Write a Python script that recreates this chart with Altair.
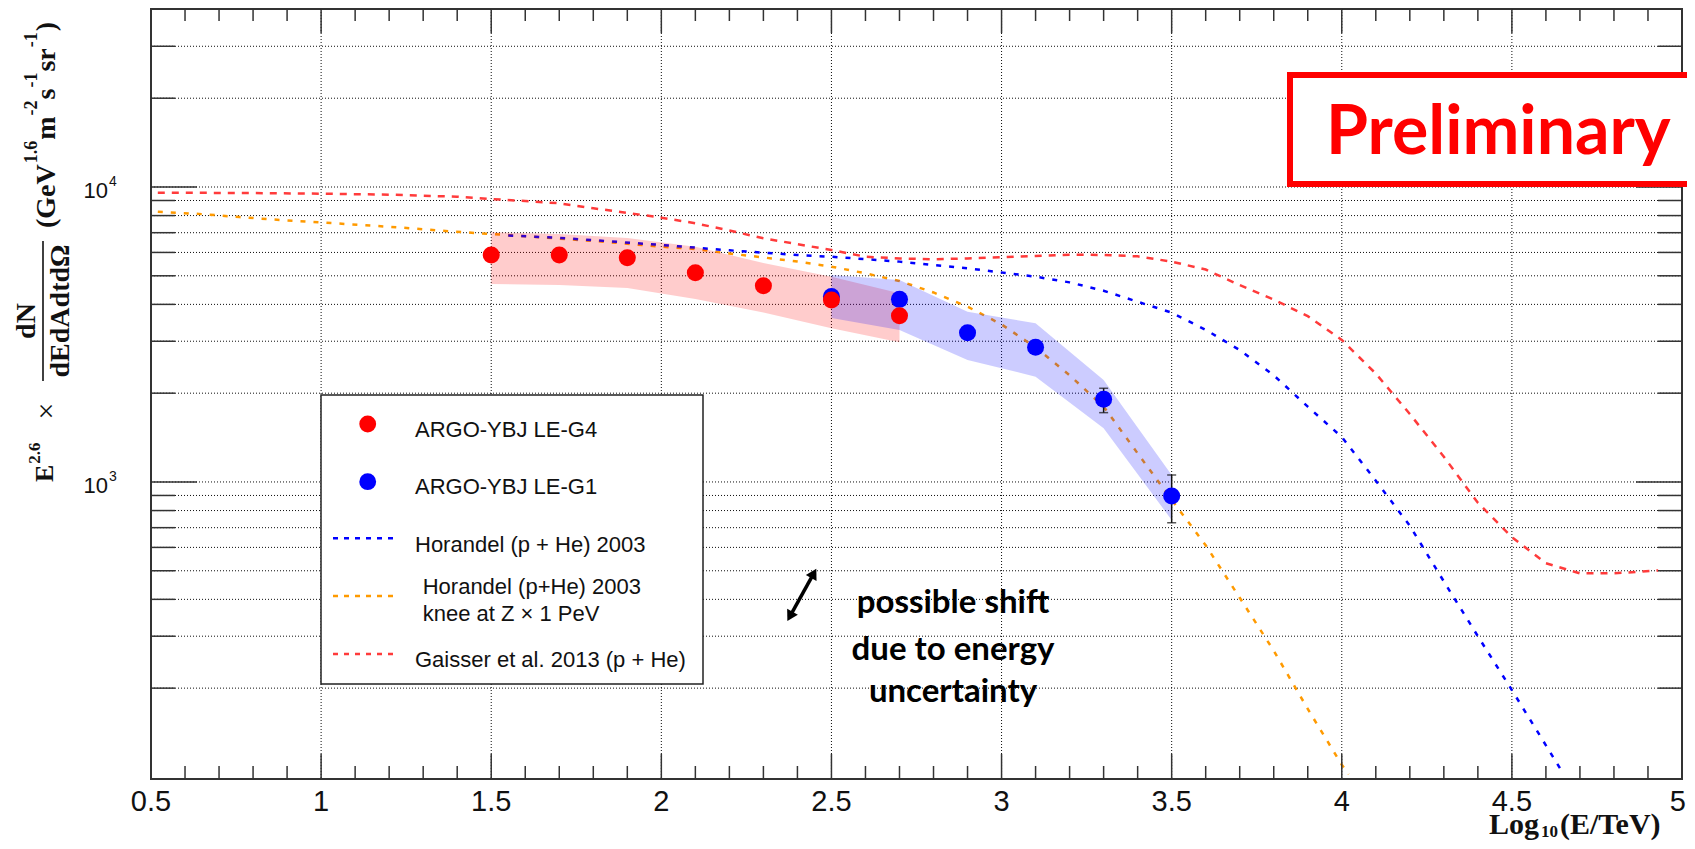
import altair as alt
import pandas as pd

# ---------------- data ----------------
red_x = [1.5, 1.7, 1.9, 2.1, 2.3, 2.5, 2.7]
red_y = [5880, 5880, 5755, 5123, 4628, 4141, 3662]
red_band_lo = [4689, 4654, 4546, 4172, 3755, 3319, 2976]
red_band_hi = [7020, 6928, 6714, 6276, 5521, 4966, 4362]

blue_x = [2.5, 2.7, 2.9, 3.1, 3.3, 3.5]
blue_y = [4250, 4160, 3206, 2861, 1907, 896]
blue_band_lo = [3597, 3276, 2592, 2275, 1521, 743]
blue_band_hi = [5031, 4838, 3779, 3451, 2217, 1056]

err_x = [3.3, 3.5]
err_lo = [1718, 728]
err_hi = [2078, 1056]

gaisser_x = [0.52, 0.8, 1.0, 1.2, 1.4, 1.5, 1.6, 1.7, 1.8, 1.9, 2.0, 2.1, 2.2, 2.3, 2.4,
             2.5, 2.6, 2.7, 2.8, 2.9, 3.0, 3.1, 3.2, 3.3, 3.4, 3.5, 3.6, 3.7, 3.8, 3.9,
             4.0, 4.1, 4.2, 4.3, 4.4, 4.5, 4.6, 4.7, 4.8, 4.93]
gaisser_y = [9565, 9540, 9490, 9420, 9270, 9100, 8966, 8806, 8472, 8170, 7872, 7534, 7120,
             6700, 6400, 6114, 5802, 5728, 5688, 5728, 5776, 5834, 5895, 5884, 5820, 5585,
             5250, 4650, 4150, 3650, 3030, 2330, 1700, 1218, 850, 650, 530, 490, 490, 501]

horandel_x = [1.55, 1.7, 1.8, 2.0, 2.2, 2.4, 2.5, 2.7, 2.9, 3.1, 3.2, 3.3, 3.4, 3.5, 3.6,
              3.7, 3.8, 3.9, 4.0, 4.1, 4.2, 4.3, 4.4, 4.5, 4.6, 4.65]
horandel_y = [6850, 6720, 6607, 6359, 6100, 5880, 5802, 5585, 5302, 4966, 4750, 4450, 4083,
              3750, 3280, 2800, 2300, 1800, 1420, 1010, 710, 460, 300, 197, 128, 103]

knee_x = [0.52, 0.66, 0.76, 0.88, 1.0, 1.12, 1.24, 1.38, 1.5, 1.65, 1.83, 2.0, 2.1, 2.2,
          2.3, 2.4, 2.5, 2.6, 2.7, 2.8, 2.9, 3.0, 3.1, 3.2, 3.3, 3.4, 3.5, 3.6, 3.7, 3.8,
          3.9, 4.0, 4.02]
knee_y = [8246, 8079, 7907, 7727, 7586, 7431, 7278, 7076, 6928, 6747, 6525, 6276, 6166, 5950,
          5770, 5590, 5370, 5098, 4800, 4390, 3930, 3420, 2860, 2300, 1800, 1250, 870, 610,
          405, 268, 170, 110, 102]

arrow_x = [2.378, 2.448]
arrow_y = [350, 490]
arrow_angle = [209, 29]

x_label_values = [0.5, 1, 1.5, 2, 2.5, 3, 3.5, 4, 4.5]
x_label_text = ["0.5", "1", "1.5", "2", "2.5", "3", "3.5", "4", "4.5"]
x_last_value = [5]
x_last_text = ["5"]
x_grid = [1, 1.5, 2, 2.5, 3, 3.5, 4, 4.5]
x_major_ticks = [1, 1.5, 2, 2.5, 3, 3.5, 4, 4.5]
x_minor_ticks = [0.6, 0.7, 0.8, 0.9, 1.1, 1.2, 1.3, 1.4, 1.6, 1.7, 1.8, 1.9, 2.1, 2.2, 2.3,
                 2.4, 2.6, 2.7, 2.8, 2.9, 3.1, 3.2, 3.3, 3.4, 3.6, 3.7, 3.8, 3.9, 4.1, 4.2,
                 4.3, 4.4, 4.6, 4.7, 4.8, 4.9]
y_major_ticks = [1000, 10000]
y_minor_ticks = [200, 300, 400, 500, 600, 700, 800, 900, 2000, 3000, 4000, 5000, 6000,
                 7000, 8000, 9000, 20000, 30000]
y_grid = sorted(y_major_ticks + y_minor_ticks)
y_label_values = [1000, 10000]
y_label_sup = ["3", "4"]

legend_labels = ["ARGO-YBJ LE-G4", "ARGO-YBJ LE-G1", "Horandel (p + He) 2003",
                 "Horandel (p+He) 2003", "knee at Z \u00d7 1 PeV", "Gaisser et al. 2013 (p + He)"]
note_lines = ["possible shift", "due to energy", "uncertainty"]

# ---------------- layout constants ----------------
W, H = 1531, 770
xs = alt.Scale(domain=[0.5, 5], nice=False, zero=False)
ys = alt.Scale(type="log", domain=[98.4, 40130], nice=False)
RED, BLUE, ORANGE = "#ff3b3b", "#0000ff", "#ff9a00"
SANS, SERIF, CAL = "Liberation Sans", "Liberation Serif", "Lato"


def X(field="x"):
    return alt.X(f"{field}:Q", scale=xs, axis=None)


def Y(field="y"):
    return alt.Y(f"{field}:Q", scale=ys, axis=None)


def PX(field="px"):
    return alt.X(f"{field}:Q", scale=None, axis=None)


def PY(field="py"):
    return alt.Y(f"{field}:Q", scale=None, axis=None)


# ---- dotted grid ----
GRID = dict(color="#000", strokeWidth=1, strokeDash=[1, 2], opacity=0.95)
grid_x = alt.Chart(pd.DataFrame({"x": x_grid})).mark_rule(**GRID).encode(
    x=X(), y=alt.value(0), y2=alt.value(H))
grid_y = alt.Chart(pd.DataFrame({"y": y_grid})).mark_rule(**GRID).encode(
    y=Y(), x=alt.value(0), x2=alt.value(W))


def curve(xv, yv, color, dash):
    return alt.Chart(pd.DataFrame({"x": xv, "y": yv})).mark_line(
        color=color, strokeDash=dash, strokeWidth=2.5, clip=True).encode(x=X(), y=Y())


knee_line = curve(knee_x, knee_y, ORANGE, [5, 8])
hor_line = curve(horandel_x, horandel_y, BLUE, [5, 8])
gai_line = curve(gaisser_x, gaisser_y, RED, [7, 7])

red_band = alt.Chart(pd.DataFrame({"x": red_x, "lo": red_band_lo, "hi": red_band_hi})).mark_area(
    color="#ff0000", opacity=0.2).encode(x=X(), y=Y("lo"), y2="hi:Q")
blue_band = alt.Chart(pd.DataFrame({"x": blue_x, "lo": blue_band_lo, "hi": blue_band_hi})).mark_area(
    color="#0000ff", opacity=0.2).encode(x=X(), y=Y("lo"), y2="hi:Q")

err_df = pd.DataFrame({"x": err_x, "lo": err_lo, "hi": err_hi})
err_bar = alt.Chart(err_df).mark_rule(color="#111", strokeWidth=1.5).encode(x=X(), y=Y("lo"), y2="hi:Q")
err_cap_lo = alt.Chart(err_df).mark_tick(color="#111", thickness=1.5, size=9, orient="horizontal").encode(x=X(), y=Y("lo"))
err_cap_hi = alt.Chart(err_df).mark_tick(color="#111", thickness=1.5, size=9, orient="horizontal").encode(x=X(), y=Y("hi"))

blue_pts = alt.Chart(pd.DataFrame({"x": blue_x, "y": blue_y})).mark_circle(
    color=BLUE, size=290, opacity=1).encode(x=X(), y=Y())
red_pts = alt.Chart(pd.DataFrame({"x": red_x, "y": red_y})).mark_circle(
    color="#ff0000", size=290, opacity=1).encode(x=X(), y=Y())

# ---- inward ticks on all four sides ----
TICK = dict(color="#333", strokeWidth=1.5)
tx_maj = pd.DataFrame({"x": x_major_ticks})
tx_min = pd.DataFrame({"x": x_minor_ticks})
ty_maj = pd.DataFrame({"y": y_major_ticks})
ty_min = pd.DataFrame({"y": y_minor_ticks})
ticks = [
    alt.Chart(tx_maj).mark_rule(**TICK).encode(x=X(), y=alt.value(H), y2=alt.value(H - 25)),
    alt.Chart(tx_min).mark_rule(**TICK).encode(x=X(), y=alt.value(H), y2=alt.value(H - 13)),
    alt.Chart(tx_maj).mark_rule(**TICK).encode(x=X(), y=alt.value(0), y2=alt.value(24)),
    alt.Chart(tx_min).mark_rule(**TICK).encode(x=X(), y=alt.value(0), y2=alt.value(12)),
    alt.Chart(ty_maj).mark_rule(**TICK).encode(y=Y(), x=alt.value(0), x2=alt.value(46)),
    alt.Chart(ty_min).mark_rule(**TICK).encode(y=Y(), x=alt.value(0), x2=alt.value(24)),
    alt.Chart(ty_maj).mark_rule(**TICK).encode(y=Y(), x=alt.value(W), x2=alt.value(W - 46)),
    alt.Chart(ty_min).mark_rule(**TICK).encode(y=Y(), x=alt.value(W), x2=alt.value(W - 24)),
]

# ---- x tick labels ----
xlab = alt.Chart(pd.DataFrame({"x": x_label_values, "t": x_label_text})).mark_text(
    font=SANS, fontSize=29, color="#111", align="center", baseline="top").encode(
    x=X(), y=alt.value(H + 9), text="t:N")
xlab_last = alt.Chart(pd.DataFrame({"x": x_last_value, "t": x_last_text})).mark_text(
    font=SANS, fontSize=29, color="#111", align="right", baseline="top", dx=4).encode(
    x=X(), y=alt.value(H + 9), text="t:N")

# ---- y tick labels 10^3, 10^4 ----
ylab_df = pd.DataFrame({"y": y_label_values, "sup": y_label_sup})
ylab_main = alt.Chart(ylab_df).mark_text(font=SANS, fontSize=22, color="#111", align="right",
                                         baseline="middle", dy=4).encode(
    y=Y(), x=alt.value(-43), text=alt.value("10"))
ylab_sup = alt.Chart(ylab_df).mark_text(font=SANS, fontSize=14, color="#111", align="left",
                                        baseline="middle", dy=-5).encode(
    y=Y(), x=alt.value(-42), text="sup:N")

# ---- legend ----
legend_box = alt.Chart(pd.DataFrame({"a": [0]})).mark_rect(
    fill="white", stroke="#222", strokeWidth=1.5).encode(
    x=alt.value(170), x2=alt.value(552), y=alt.value(386), y2=alt.value(675))
leg_dots = alt.Chart(pd.DataFrame({"px": [216.7, 216.7], "py": [415, 472.7],
                                   "c": ["#ff0000", BLUE]})).mark_circle(size=283, opacity=1).encode(
    x=PX(), y=PY(), color=alt.Color("c:N", scale=None))
leg_lines = [
    alt.Chart(pd.DataFrame({"a": [0]})).mark_rule(color=c, strokeWidth=2.5, strokeDash=[5, 6]).encode(
        x=alt.value(182), x2=alt.value(248), y=alt.value(yy))
    for c, yy in [(BLUE, 529.3), (ORANGE, 587), (RED, 645)]
]
leg_text = alt.Chart(pd.DataFrame({
    "px": [264, 264, 264, 271.7, 271.7, 264],
    "py": [427.7, 485.3, 542.7, 585, 611.7, 658.3],
    "t": legend_labels})).mark_text(font=SANS, fontSize=22, color="#111", align="left",
                                    baseline="alphabetic").encode(x=PX(), y=PY(), text="t:N")

# ---- Preliminary stamp ----
prelim_box = alt.Chart(pd.DataFrame({"a": [0]})).mark_rect(
    fill="white", stroke="#ff0000", strokeWidth=6).encode(
    x=alt.value(1139), x2=alt.value(1580), y=alt.value(66), y2=alt.value(175))
prelim_text = alt.Chart(pd.DataFrame({"t": ["Preliminary"]})).mark_text(
    font=CAL, fontWeight="bold", fontSize=68, color="#ff0000", align="left",
    baseline="alphabetic").encode(x=alt.value(1175), y=alt.value(145), text="t:N")

# ---- energy-shift note + arrow ----
note = alt.Chart(pd.DataFrame({"px": [802, 802, 802], "py": [604.3, 651, 692.7],
                               "t": note_lines})).mark_text(
    font=CAL, fontWeight="bold", fontSize=33, color="#000", align="center",
    baseline="alphabetic").encode(x=PX(), y=PY(), text="t:N")
arrow_df = pd.DataFrame({"x": arrow_x, "y": arrow_y, "a": arrow_angle})
arrow_shaft = alt.Chart(arrow_df).mark_line(color="#000", strokeWidth=3.5).encode(x=X(), y=Y())
arrow_heads = alt.Chart(arrow_df).mark_point(shape="triangle-up", filled=True, color="#000",
                                             size=150, opacity=1).encode(
    x=X(), y=Y(), angle=alt.Angle("a:Q", scale=None))

# ---- y-axis title (rotated, laid out piece by piece) ----
TB = {'(': .333, ')': .333, 'G': .778, 'e': .444, 'V': .722, 'm': .833, 's': .389, 'r': .444,
      '.': .25, '-': .333, '1': .5, '2': .5, '6': .5, 'E': .667, 'L': .667, 'o': .5, 'g': .5,
      '0': .5, '/': .278, 'T': .667}


def tw(s, fs):
    return sum(TB.get(ch, .5) for ch in s) * fs


def run_vertical(pieces, xbase, ystart):
    rows, y = [], ystart
    for txt, fs, rise in pieces:
        rows.append({"px": xbase - rise, "py": y, "t": txt, "fs": fs})
        y -= tw(txt, fs) + 1
    return rows


def run_horizontal(pieces, xstart, ybase):
    rows, x = [], xstart
    for txt, fs, drop in pieces:
        rows.append({"px": x, "py": ybase + drop, "t": txt, "fs": fs})
        x += tw(txt, fs) + 2
    return rows


ytitle_rows = run_vertical([("E", 26, 0), ("2.6", 17, 13)], -98, 473)
ytitle_rows += run_vertical([("(GeV", 28, 0), ("1.6", 18, 18), ("m", 28, 0), ("-2", 18, 18),
                             ("s", 28, 0), ("-1", 18, 18), ("sr", 28, 0), ("-1", 18, 18),
                             (")", 28, 0)], -96, 219)
ytitle_left = alt.Chart(pd.DataFrame(ytitle_rows)).mark_text(
    font=SERIF, fontWeight="bold", angle=270, align="left", baseline="alphabetic", color="#111").encode(
    x=PX(), y=PY(), text="t:N", size=alt.Size("fs:Q", scale=None))
frac = alt.Chart(pd.DataFrame({"px": [-116, -82], "py": [312, 302], "t": ["dN", "dEdAdtd\u03a9"]})).mark_text(
    font=SERIF, fontWeight="bold", fontSize=28, angle=270, align="center", baseline="alphabetic",
    color="#111").encode(x=PX(), y=PY(), text="t:N")
frac_bar = alt.Chart(pd.DataFrame({"a": [0]})).mark_rule(color="#111", strokeWidth=1.6).encode(
    x=alt.value(-108), y=alt.value(232), y2=alt.value(372))
times_sign = alt.Chart(pd.DataFrame({"t": ["\u00d7"]})).mark_text(
    font=SERIF, fontSize=30, angle=270, align="center", baseline="middle", color="#111").encode(
    x=alt.value(-104), y=alt.value(402), text="t:N")

# ---- x-axis title ----
xtitle_rows = run_horizontal([("Log", 30, 0), ("10", 17, 3), ("(E/TeV)", 30, 0)], 1338, 825)
xtitle = alt.Chart(pd.DataFrame(xtitle_rows)).mark_text(
    font=SERIF, fontWeight="bold", align="left", baseline="alphabetic", color="#111").encode(
    x=PX(), y=PY(), text="t:N", size=alt.Size("fs:Q", scale=None))

chart = alt.layer(
    grid_x, grid_y, knee_line, hor_line, gai_line, red_band, blue_band,
    err_bar, err_cap_lo, err_cap_hi, blue_pts, red_pts, *ticks, xlab, xlab_last,
    legend_box, leg_dots, *leg_lines, leg_text,
    prelim_box, prelim_text, note, arrow_shaft, arrow_heads,
    ylab_main, ylab_sup, ytitle_left, frac, frac_bar, times_sign, xtitle,
).properties(
    width=W, height=H,
    padding={"left": 143, "top": 1, "right": 5, "bottom": 62},
    autosize=alt.AutoSizeParams(type="none"),
    background="white",
).configure_view(stroke="#333", strokeWidth=2)

chart.save("out.html", embed_options={"renderer": "svg", "actions": False})
